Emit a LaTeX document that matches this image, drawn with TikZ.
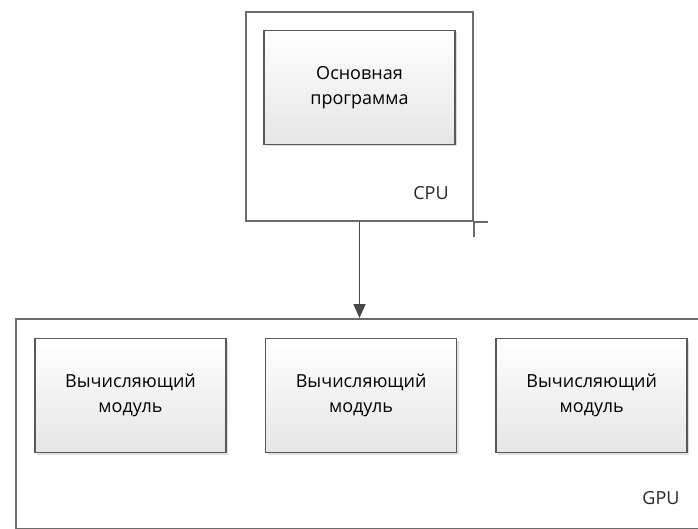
\documentclass[tikz,border=0pt]{standalone}
\usepackage{fontspec}
\setmainfont{Open Sans}
\usetikzlibrary{positioning}
\usetikzlibrary{shadows}
\usetikzlibrary{arrows.meta}
\tikzset{unit/.style={draw=black!65,line width=1.6pt,minimum width=191pt,minimum height=114pt,
           align=center,top color=white,bottom color=black!10,
           drop shadow={shadow xshift=2pt,shadow yshift=-2pt,opacity=0.25},
           font=\fontsize{18}{25}\selectfont},
         frame/.style={draw=black!58,line width=1.6pt},
         lbl/.style={font=\fontsize{18}{25}\selectfont,text=black!85},
         link/.style={draw=black!72,line width=1.6pt,-{Triangle[width=12pt,length=14pt]}},
         }

\begin{document}
\begin{tikzpicture}[x=1pt,y=-1pt]
\useasboundingbox (0,0) rectangle (698,529);
% host side
\node[frame,minimum width=227pt,minimum height=209pt] (cpu) at (359.5,116.5) {};
\draw[frame] (cpu.south east) -- ++(14,0);
\draw[frame] (cpu.south east) -- ++(0,15);
\node[unit] (prog) at (359.5,87.5) {Основная\\программа};
\node[lbl] (cpulbl) at (431,193) {CPU};
% device side
\node[frame,minimum width=720pt,minimum height=210pt,anchor=north west] (gpu) at (15,318) {};
\node[unit] (mod1) at (130.5,395.5) {Вычисляющий\\модуль};
\node[unit,right=38pt of mod1] (mod2) {Вычисляющий\\модуль};
\node[unit,right=38pt of mod2] (mod3) {Вычисляющий\\модуль};
\node[lbl] (gpulbl) at (661,498) {GPU};
\draw[link] (cpu.south) -- (cpu.south |- gpu.north);
\end{tikzpicture}
\end{document}
